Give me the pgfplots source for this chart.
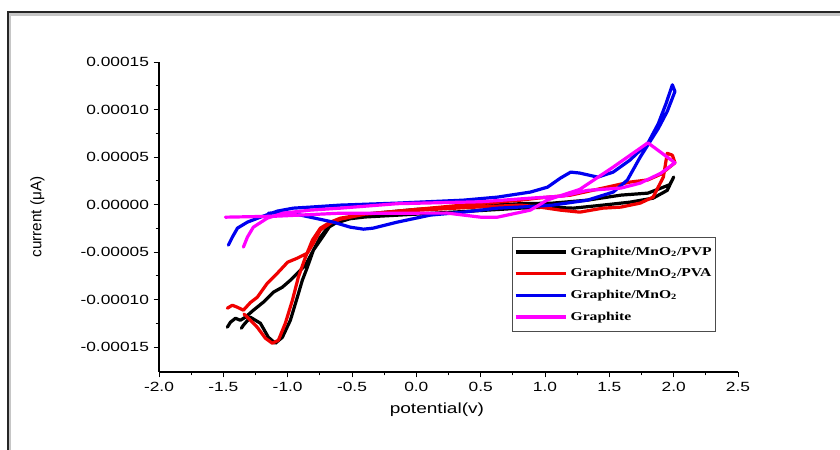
\documentclass[border=0pt]{standalone}
\usepackage{pgfplots}
\pgfplotsset{compat=1.18}
\usepackage{fontspec}
\setmainfont{Liberation Sans}
\newfontfamily\tickfont{Liberation Sans}[FakeStretch=1.3]
\newfontfamily\legfont{Liberation Serif}[FakeStretch=1.3]
\definecolor{cvred}{RGB}{240,0,0}
\definecolor{cvblue}{RGB}{0,0,240}
\definecolor{cvmag}{RGB}{255,0,255}
\begin{document}
\begin{tikzpicture}
\useasboundingbox (0,0) rectangle (630pt,337.5pt);
\fill[white] (0,0) rectangle (630pt,337.5pt);
\draw[gray!45, line width=1.6pt] (7.6pt,0) -- (7.6pt,326.6pt) -- (631pt,326.6pt);
\draw[black!85, line width=1.6pt] (6pt,0) -- (6pt,328.5pt) -- (631pt,328.5pt);
\begin{axis}[
  at={(119.25pt,58.5pt)}, anchor=south west,
  scale only axis, width=434.25pt, height=232.5pt,
  xmin=-2, xmax=2.5, ymin=-1.76e-4, ymax=1.5e-4,
  axis x line*=bottom, axis y line*=left,
  axis line style={line width=0.8pt},
  tick align=outside, tick style={black, line width=0.7pt},
  major tick length=4pt, minor tick length=2.5pt,
  xtick={-2,-1.5,-1,-0.5,0,0.5,1,1.5,2,2.5}, minor x tick num=1,
  ytick={-1.5e-4,-1e-4,-5e-5,0,5e-5,1e-4,1.5e-4}, minor y tick num=1,
  scaled y ticks=false,
  xticklabel style={/pgf/number format/.cd, fixed, fixed zerofill, precision=1, assume math mode=true},
  yticklabel style={/pgf/number format/.cd, fixed, fixed zerofill, precision=5, assume math mode=true},
  ticklabel style={font=\fontsize{10}{12}\tickfont},
  xlabel={potential(v)},
  xlabel style={font=\fontsize{11}{13}\tickfont, at={(axis description cs:0.48,-0.123)}, anchor=center},
  ylabel={current (μA)},
  ylabel style={font=\fontsize{11.5}{13}\selectfont, at={(axis description cs:-0.21,0.5)}, anchor=center, rotate=0},
  every axis plot/.append style={line width=2.4pt, line join=round, line cap=round},
  legend style={at={(0.61,0.435)}, anchor=north west, draw=black!70, line width=0.5pt,
    font=\fontsize{9}{11}\legfont\bfseries, row sep=4.5pt, inner xsep=1pt, inner ysep=5pt},
  legend cell align=left,
  legend image code/.code={\draw[#1, line width=2.6pt, line cap=butt] (0pt,0pt) -- (38pt,0pt);},
]
\addplot[black] coordinates {
(-1.469,-12.89e-5) (-1.445,-12.37e-5) (-1.406,-11.95e-5) (-1.368,-12.16e-5) (-1.329,-11.84e-5)
(-1.267,-11.11e-5) (-1.189,-10.26e-5) (-1.111,-9.21e-5) (-1.041,-8.68e-5) (-0.979,-7.95e-5)
(-0.925,-7.21e-5) (-0.862,-6.37e-5) (-0.800,-4.79e-5) (-0.730,-3.42e-5) (-0.668,-2.16e-5)
(-0.606,-1.63e-5) (-0.4,-1.3e-5) (0,-1.0e-5) (0.4,-0.7e-5) (0.81,-0.37e-5) (1.02,-0.26e-5)
(1.22,-0.37e-5) (1.45,-0.05e-5) (1.66,0.26e-5) (1.84,0.68e-5) (1.95,1.5e-5) (2.0,2.9e-5)
(1.97,2.1e-5) (1.80,1.21e-5) (1.59,1.0e-5) (1.33,0.47e-5) (1.06,0.16e-5) (0.81,0.1e-5)
(0.4,-0.2e-5) (0,-0.5e-5) (-0.4,-1.0e-5) (-0.629,-1.95e-5) (-0.692,-2.47e-5) (-0.746,-3.42e-5)
(-0.800,-4.79e-5) (-0.847,-6.58e-5) (-0.886,-7.95e-5) (-0.925,-9.74e-5) (-0.979,-12.16e-5)
(-1.041,-13.95e-5) (-1.096,-14.58e-5) (-1.150,-13.95e-5) (-1.212,-12.47e-5) (-1.290,-11.84e-5)
(-1.344,-12.68e-5) (-1.36,-13.0e-5)
};
\addlegendentry{Graphite/MnO\textsubscript{2}/PVP}
\addplot[cvred] coordinates {
(-1.469,-10.89e-5) (-1.430,-10.58e-5) (-1.391,-10.79e-5) (-1.344,-11.1e-5) (-1.29,-10.3e-5)
(-1.236,-9.74e-5) (-1.158,-8.26e-5) (-1.080,-7.21e-5) (-1.0,-6.05e-5) (-0.925,-5.63e-5)
(-0.847,-5.10e-5) (-0.800,-4.05e-5) (-0.746,-2.68e-5) (-0.668,-1.95e-5) (-0.59,-1.53e-5)
(-0.4,-1.0e-5) (0,-0.6e-5) (0.4,-0.3e-5) (0.81,-0.05e-5) (0.96,-0.26e-5) (1.12,-0.58e-5)
(1.27,-0.79e-5) (1.45,-0.37e-5) (1.59,-0.26e-5) (1.74,0.16e-5) (1.84,0.79e-5) (1.92,2.9e-5)
(1.95,5.4e-5) (1.99,5.2e-5) (2.01,4.4e-5) (1.90,3.2e-5) (1.80,2.6e-5) (1.66,2.37e-5)
(1.45,1.74e-5) (1.20,1.0e-5) (0.94,0.68e-5) (0.81,0.47e-5) (0.4,0.0e-5) (0,-0.5e-5)
(-0.4,-1.0e-5) (-0.59,-1.42e-5) (-0.668,-1.84e-5) (-0.746,-2.47e-5) (-0.808,-3.74e-5)
(-0.862,-5.53e-5) (-0.917,-7.63e-5) (-0.963,-10.05e-5) (-1.018,-12.47e-5) (-1.072,-14.26e-5)
(-1.119,-14.58e-5) (-1.173,-14.05e-5) (-1.236,-12.9e-5) (-1.313,-11.84e-5) (-1.34,-11.5e-5)
};
\addlegendentry{Graphite/MnO\textsubscript{2}/PVA}
\addplot[cvblue] coordinates {
(-1.461,-4.26e-5) (-1.43,-3.42e-5) (-1.39,-2.47e-5) (-1.313,-1.84e-5) (-1.212,-1.32e-5)
(-1.08,-0.68e-5) (-0.956,-0.37e-5) (-0.824,-0.26e-5) (-0.59,-0.05e-5) (-0.148,0.16e-5)
(0.365,0.47e-5) (0.63,0.79e-5) (0.886,1.32e-5) (1.02,1.84e-5) (1.12,2.79e-5) (1.20,3.42e-5)
(1.27,3.32e-5) (1.41,2.89e-5) (1.53,3.42e-5) (1.66,4.68e-5) (1.80,6.47e-5) (1.88,8.5e-5)
(1.94,10.6e-5) (1.99,12.6e-5) (2.01,11.9e-5) (1.95,9.8e-5) (1.88,8.0e-5) (1.74,5.0e-5)
(1.64,2.58e-5) (1.53,1.32e-5) (1.33,0.47e-5) (1.06,-0.05e-5) (0.886,-0.2e-5) (0.63,-0.37e-5)
(0.365,-0.79e-5) (0.109,-1.1e-5) (-0.148,-1.84e-5) (-0.334,-2.47e-5) (-0.41,-2.58e-5)
(-0.513,-2.37e-5) (-0.645,-1.84e-5) (-0.9,-1.1e-5) (-1.08,-0.85e-5) (-1.15,-0.9e-5)
};
\addlegendentry{Graphite/MnO\textsubscript{2}}
\addplot[cvmag] coordinates {
(-1.484,-1.32e-5) (-1.08,-1.21e-5) (-0.59,-0.9e-5) (-0.148,-0.9e-5) (0.24,-0.89e-5)
(0.50,-1.32e-5) (0.63,-1.32e-5) (0.886,-0.58e-5) (1.02,0.5e-5) (1.27,1.6e-5) (1.53,3.95e-5)
(1.80,6.5e-5) (2.01,4.4e-5) (1.90,3.3e-5) (1.74,2.26e-5) (1.59,1.74e-5) (1.33,1.5e-5)
(1.14,0.9e-5) (0.886,0.68e-5) (0.5,0.3e-5) (0.365,0.26e-5) (-0.148,0.1e-5) (-0.59,-0.37e-5)
(-0.824,-0.58e-5) (-1.034,-0.89e-5) (-1.158,-1.42e-5) (-1.267,-2.37e-5) (-1.313,-3.42e-5)
(-1.344,-4.47e-5)
};
\addlegendentry{Graphite}
\end{axis}
\end{tikzpicture}
\end{document}
